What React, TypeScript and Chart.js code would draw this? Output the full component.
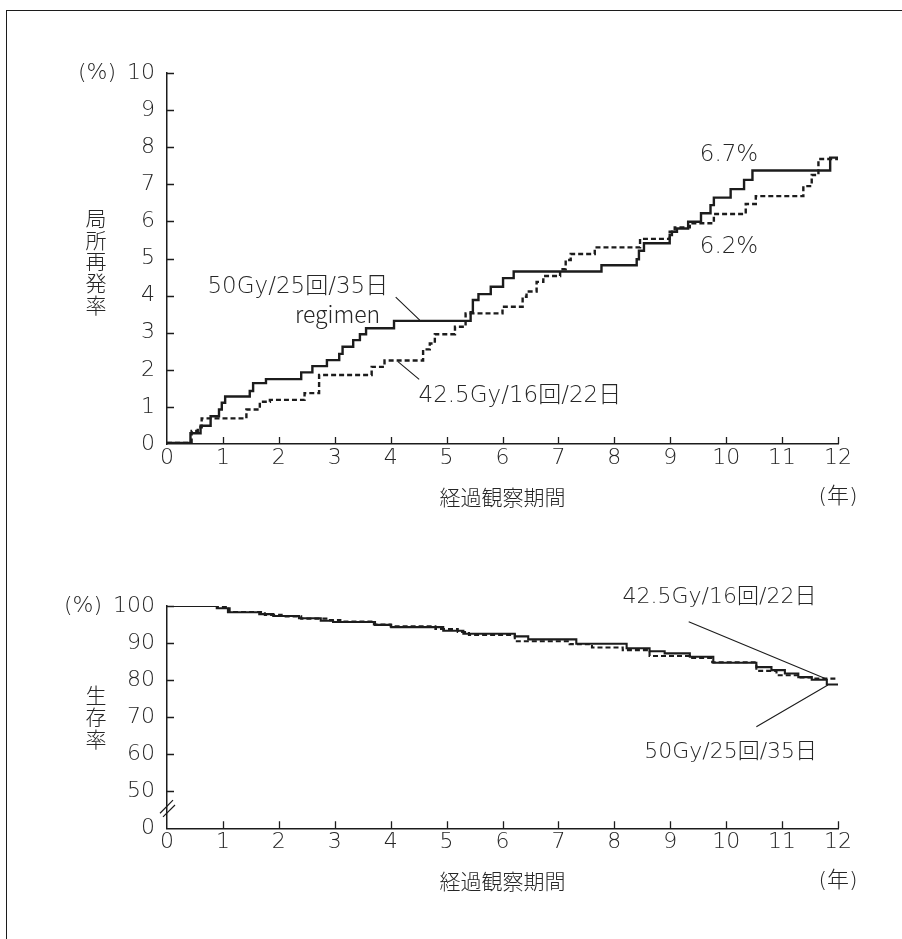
import React, { useEffect, useRef } from 'react';
import { Chart, registerables } from 'chart.js';

Chart.register(...registerables);

// ---------- data ----------
const yearTicks = [0, 1, 2, 3, 4, 5, 6, 7, 8, 9, 10, 11, 12];
const recurrenceTicks = [0, 1, 2, 3, 4, 5, 6, 7, 8, 9, 10];
const survivalTicks = [40, 50, 60, 70, 80, 90, 100];

const seriesLabels = ['50Gy/25回/35日', '42.5Gy/16回/22日'];

// Local recurrence (%), 50Gy/25fr/35d
const lrTime50 = [0, 0.42, 0.6, 0.78, 0.93, 0.98, 1.04, 1.48, 1.54, 1.77, 2.4, 2.6, 2.86, 3.08, 3.14, 3.33, 3.45, 3.56, 4.06, 5.43, 5.47, 5.57, 5.79, 6.01, 6.2, 7.77, 8.4, 8.44, 8.53, 8.99, 9.03, 9.12, 9.32, 9.55, 9.72, 9.78, 10.08, 10.32, 10.47, 11.86, 12.0];
const lrRate50 = [0.03, 0.29, 0.49, 0.75, 0.93, 1.11, 1.28, 1.43, 1.64, 1.75, 1.93, 2.1, 2.26, 2.43, 2.62, 2.8, 2.96, 3.12, 3.32, 3.55, 3.88, 4.04, 4.24, 4.47, 4.65, 4.82, 4.98, 5.21, 5.41, 5.63, 5.72, 5.81, 5.99, 6.22, 6.44, 6.64, 6.87, 7.12, 7.37, 7.72, 7.72];

// Local recurrence (%), 42.5Gy/16fr/22d
const lrTime42 = [0, 0.44, 0.55, 0.62, 1.42, 1.66, 1.84, 2.46, 2.72, 3.66, 3.89, 4.58, 4.7, 4.79, 5.15, 5.34, 6.0, 6.36, 6.43, 6.61, 6.73, 7.03, 7.13, 7.22, 7.65, 8.46, 8.99, 9.08, 9.35, 9.78, 10.35, 10.53, 11.38, 11.53, 11.65, 12.0];
const lrRate42 = [0.03, 0.35, 0.45, 0.69, 0.93, 1.14, 1.19, 1.37, 1.86, 2.08, 2.25, 2.55, 2.71, 2.96, 3.16, 3.52, 3.7, 3.97, 4.11, 4.37, 4.53, 4.71, 4.96, 5.12, 5.3, 5.53, 5.72, 5.84, 5.95, 6.2, 6.47, 6.68, 6.95, 7.25, 7.68, 7.68];

// Overall survival (%), 50Gy/25fr/35d
const osTime50 = [0, 0.89, 1.09, 1.65, 1.9, 2.36, 2.75, 2.97, 3.72, 4.01, 4.94, 5.3, 6.22, 6.46, 7.32, 8.22, 8.63, 8.9, 9.35, 9.77, 10.54, 10.81, 11.05, 11.29, 11.53, 11.8, 12.0];
const osRate50 = [100, 99.4, 98.3, 97.8, 97.3, 96.7, 96.0, 95.7, 94.9, 94.3, 93.3, 92.5, 91.8, 91.0, 89.8, 88.6, 87.8, 87.2, 86.3, 84.7, 83.5, 82.7, 81.8, 80.8, 80.1, 78.8, 78.8];

// Overall survival (%), 42.5Gy/16fr/22d
const osTime42 = [0, 0.91, 1.12, 1.75, 2.05, 2.4, 2.85, 3.1, 3.7, 4.0, 4.8, 5.2, 5.4, 6.22, 7.2, 7.6, 8.15, 8.63, 9.35, 9.75, 10.54, 10.9, 11.3, 11.55, 12.0];
const osRate42 = [100, 99.7, 98.4, 97.6, 97.2, 96.6, 96.2, 95.8, 95.0, 94.5, 93.8, 93.0, 92.2, 90.5, 89.7, 88.8, 88.1, 86.5, 86.0, 84.8, 82.5, 81.3, 80.7, 80.4, 80.4];

// ---------- styling ----------
const CJK = '"Noto Sans CJK JP", sans-serif';
const NUM = '"DejaVu Sans", "Noto Sans CJK JP", sans-serif';
const INK = '#1c1c1c';
const TEXT = '#262626';
const W = 902;

type Note = { text: string; x: number; y: number; font?: string };
type Leader = { x1: number; y1: number; x2: number; y2: number };

interface Spec {
  height: number;
  padTop: number;
  xHeight: number;
  yMin: number;
  yMax: number;
  yTicks: number[];
  yLabel: (v: number) => string;
  yTitle: string;
  titleOffset: number;
  noteSize: number;
  t50: number[]; v50: number[]; t42: number[]; v42: number[];
  lineWidth: number;
  notes: Note[];
  leaders: Leader[];
  breakMarks?: Leader[];
}

function pts(t: number[], v: number[]) {
  return t.map((x, i) => ({ x, y: v[i] }));
}

function makeDecor(spec: Spec) {
  return {
    id: 'decor',
    afterDraw(chart: any) {
      const { ctx, chartArea } = chart;
      const xs = chart.scales.x;
      const ys = chart.scales.y;
      ctx.save();
      ctx.strokeStyle = INK;
      ctx.lineWidth = 1.3;
      // inward tick marks
      ctx.beginPath();
      for (const t of yearTicks) {
        if (t === 0) continue;
        const px = Math.round(xs.getPixelForValue(t)) + 0.5;
        ctx.moveTo(px, chartArea.bottom);
        ctx.lineTo(px, chartArea.bottom - 7);
      }
      for (const v of spec.yTicks) {
        if (v === spec.yMin) continue;
        const py = Math.round(ys.getPixelForValue(v)) + 0.5;
        ctx.moveTo(chartArea.left, py);
        ctx.lineTo(chartArea.left + 7, py);
      }
      ctx.stroke();

      // leader lines
      ctx.lineWidth = 1.1;
      ctx.beginPath();
      for (const l of spec.leaders) {
        ctx.moveTo(xs.getPixelForValue(l.x1), ys.getPixelForValue(l.y1));
        ctx.lineTo(xs.getPixelForValue(l.x2), ys.getPixelForValue(l.y2));
      }
      ctx.stroke();

      // axis break marks
      if (spec.breakMarks) {
        ctx.lineWidth = 1.2;
        ctx.beginPath();
        for (const b of spec.breakMarks) {
          ctx.moveTo(chartArea.left + b.x1, ys.getPixelForValue(b.y1));
          ctx.lineTo(chartArea.left + b.x2, ys.getPixelForValue(b.y2));
        }
        ctx.stroke();
      }

      // annotation texts
      ctx.fillStyle = TEXT;
      ctx.textAlign = 'center';
      ctx.textBaseline = 'middle';
      for (const n of spec.notes) {
        ctx.font = n.font ? `300 ${spec.noteSize}px ${n.font}` : `200 ${spec.noteSize}px ${NUM}`;
        ctx.fillText(n.text, xs.getPixelForValue(n.x), ys.getPixelForValue(n.y));
      }

      // x axis title + unit
      ctx.font = `300 21px ${CJK}`;
      const cx = (chartArea.left + chartArea.right) / 2;
      ctx.fillText('経過観察期間', cx, chartArea.bottom + 53);
      ctx.font = `200 22px ${NUM}`;
      ctx.fillText('(年)', xs.getPixelForValue(12), chartArea.bottom + 53);

      // vertical y title
      ctx.font = `300 21px ${CJK}`;
      const chars = Array.from(spec.yTitle);
      const pitch = 21.8;
      const midY = (chartArea.top + chartArea.bottom) / 2 + spec.titleOffset;
      const y0 = midY - ((chars.length - 1) * pitch) / 2;
      chars.forEach((c, i) => ctx.fillText(c, chartArea.left - 71, y0 + i * pitch));
      ctx.restore();
    },
  };
}

function makeConfig(spec: Spec): any {
  const tickFont = { family: NUM, size: 22, weight: 200 as any };
  return {
    type: 'line',
    data: {
      datasets: [
        {
          label: seriesLabels[0],
          data: pts(spec.t50, spec.v50),
          borderColor: INK,
          borderWidth: spec.lineWidth,
          stepped: true,
          pointRadius: 0,
          fill: false,
          order: 0,
        },
        {
          label: seriesLabels[1],
          data: pts(spec.t42, spec.v42),
          borderColor: INK,
          borderWidth: spec.lineWidth,
          borderDash: [5, 3],
          stepped: true,
          pointRadius: 0,
          fill: false,
          order: 1,
        },
      ],
    },
    options: {
      animation: false,
      responsive: false,
      maintainAspectRatio: false,
      devicePixelRatio: 1,
      layout: { padding: { left: 0, top: spec.padTop, right: 64, bottom: 0 } },
      plugins: {
        legend: { display: false },
        tooltip: { enabled: false },
      },
      scales: {
        x: {
          type: 'linear',
          min: 0,
          max: 12,
          afterBuildTicks: (s: any) => {
            s.ticks = yearTicks.map((v) => ({ value: v }));
          },
          grid: { display: false, drawTicks: false },
          border: { display: true, color: INK, width: 1.5 },
          ticks: {
            font: tickFont,
            color: TEXT,
            padding: 1,
            autoSkip: false,
            maxRotation: 0,
            callback: (v: number) => String(v),
          },
          afterFit: (s: any) => {
            s.height = spec.xHeight;
          },
        },
        y: {
          type: 'linear',
          min: spec.yMin,
          max: spec.yMax,
          afterBuildTicks: (s: any) => {
            s.ticks = spec.yTicks.map((v) => ({ value: v }));
          },
          grid: { display: false, drawTicks: false },
          border: { display: true, color: INK, width: 1.5 },
          ticks: {
            font: tickFont,
            color: TEXT,
            padding: 12,
            autoSkip: false,
            callback: (v: number) => spec.yLabel(v),
          },
          afterFit: (s: any) => {
            s.width = 167;
          },
        },
      },
    },
    plugins: [makeDecor(spec)],
  };
}

const topSpec: Spec = {
  height: 510,
  padTop: 73,
  xHeight: 510 - 444,
  yMin: 0,
  yMax: 10,
  yTicks: recurrenceTicks,
  yLabel: (v) => (v === 10 ? '(%)\u200210' : String(v)),
  yTitle: '局所再発率',
  titleOffset: 3,
  noteSize: 23,
  t50: lrTime50, v50: lrRate50, t42: lrTime42, v42: lrRate42,
  lineWidth: 2.4,
  notes: [
    { text: '50Gy/25回/35日', x: 2.34, y: 4.23 },
    { text: 'regimen', x: 3.05, y: 3.5, font: CJK },
    { text: '42.5Gy/16回/22日', x: 6.31, y: 1.29 },
    { text: '6.7%', x: 10.05, y: 7.79 },
    { text: '6.2%', x: 10.05, y: 5.31 },
  ],
  leaders: [
    { x1: 4.09, y1: 3.96, x2: 4.52, y2: 3.34 },
    { x1: 4.13, y1: 2.22, x2: 4.51, y2: 1.74 },
  ],
};

const bottomSpec: Spec = {
  height: 419,
  padTop: 606 - 520,
  xHeight: 419 - (828.3 - 520),
  yMin: 40,
  yMax: 100,
  yTicks: survivalTicks,
  yLabel: (v) => (v === 100 ? '(%)\u2002100' : v === 40 ? '0' : String(v)),
  yTitle: '生存率',
  titleOffset: 0,
  noteSize: 22,
  t50: osTime50, v50: osRate50, t42: osTime42, v42: osRate42,
  lineWidth: 2.1,
  notes: [
    { text: '42.5Gy/16回/22日', x: 9.88, y: 102.3 },
    { text: '50Gy/25回/35日', x: 10.08, y: 60.46 },
  ],
  leaders: [
    { x1: 9.33, y1: 95.76, x2: 11.76, y2: 80.49 },
    { x1: 10.54, y1: 67.42, x2: 11.82, y2: 78.68 },
  ],
  breakMarks: [
    { x1: -7, y1: 44.05, x2: 6, y2: 47.6 },
    { x1: -4, y1: 43.1, x2: 8, y2: 46.3 },
  ],
};

function KMChart({ spec, top }: { spec: Spec; top: number }) {
  const ref = useRef<HTMLCanvasElement>(null);
  useEffect(() => {
    const chart = new Chart(ref.current as HTMLCanvasElement, makeConfig(spec));
    return () => chart.destroy();
  }, [spec]);
  return (
    <canvas
      ref={ref}
      width={W}
      height={spec.height}
      style={{ position: 'absolute', left: 0, top, width: W, height: spec.height }}
    />
  );
}

export default function App() {
  return (
    <div
      style={{
        position: 'absolute',
        left: 0,
        top: 0,
        width: 902,
        height: 939,
        overflow: 'hidden',
        background: '#ffffff',
      }}
    >
      <div
        style={{
          position: 'absolute',
          left: 6,
          top: 10,
          width: 902,
          height: 940,
          borderTop: `1.5px solid ${INK}`,
          borderLeft: `1.5px solid ${INK}`,
        }}
      />
      <KMChart spec={topSpec} top={0} />
      <KMChart spec={bottomSpec} top={520} />
    </div>
  );
}
